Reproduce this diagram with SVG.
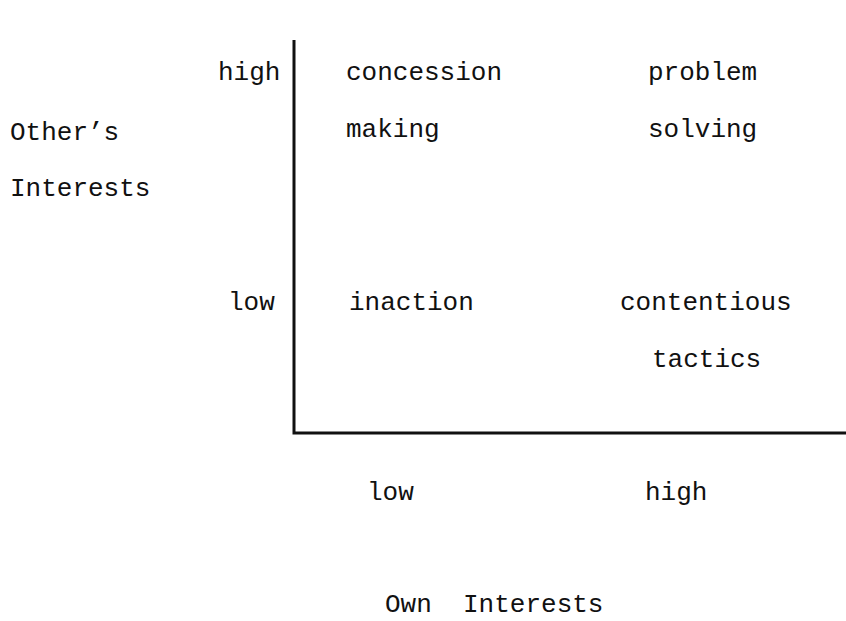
<svg xmlns="http://www.w3.org/2000/svg" width="846" height="621" viewBox="0 0 846 621">
  <style>
    .t { font-family: "Liberation Mono", "Courier New", monospace; font-size: 26px; fill: #111; }
    .axis { stroke: #111; stroke-width: 3; fill: none; }
  </style>
  <rect width="846" height="621" fill="#fff"/>
  <!-- axes -->
  <g id="axes">
    <path class="axis" d="M294,40 V433 H846"/>
  </g>
  <!-- axis titles and tick labels -->
  <g id="y-title">
    <text class="t" x="10" y="140">Other’s</text>
    <text class="t" x="10" y="196">Interests</text>
  </g>
  <g id="y-ticks">
    <text class="t" x="218" y="80">high</text>
    <text class="t" x="228" y="310">low</text>
  </g>
  <g id="x-ticks">
    <text class="t" x="367" y="500">low</text>
    <text class="t" x="645" y="500">high</text>
  </g>
  <g id="x-title">
    <text class="t" x="385" y="612" xml:space="preserve">Own  Interests</text>
  </g>
  <!-- quadrants -->
  <g id="concession-making">
    <text class="t" x="346" y="80">concession</text>
    <text class="t" x="346" y="137">making</text>
  </g>
  <g id="problem-solving">
    <text class="t" x="648" y="80">problem</text>
    <text class="t" x="648" y="137">solving</text>
  </g>
  <g id="inaction">
    <text class="t" x="349" y="310">inaction</text>
  </g>
  <g id="contentious-tactics">
    <text class="t" x="620" y="310">contentious</text>
    <text class="t" x="652" y="367">tactics</text>
  </g>
</svg>
